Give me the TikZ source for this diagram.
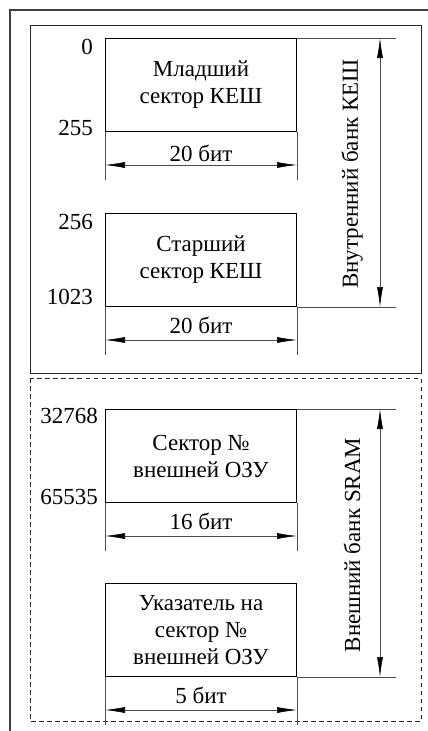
\documentclass[tikz,border=0pt]{standalone}
\usepackage{fontspec}
\setmainfont{Liberation Serif}
\usetikzlibrary{arrows.meta,calc}
\tikzset{
  frame/.style={draw=black!75, line width=1.4pt},
  bank/.style={draw=black!85, line width=1pt},
  sector/.style={draw=black, line width=1pt, minimum width=191pt, minimum height=93pt,
    anchor=north west, inner sep=0pt, align=center, font=\fontsize{23}{27}\selectfont},
  addr/.style={anchor=east, inner sep=0pt, font=\fontsize{23}{25}\selectfont},
  dimtext/.style={inner sep=0pt, font=\fontsize{23}{25}\selectfont},
  extline/.style={draw=black!70, line width=0.5pt},
  dimline/.style={draw=black!70, line width=0.6pt, {Latex[length=20pt,width=6pt,color=black]}-{Latex[length=20pt,width=6pt,color=black]}},
}
\begin{document}
\begin{tikzpicture}[x=1pt,y=-1pt]
\useasboundingbox (0,0) rectangle (428,731);
% outer frame, running off the page on the right and at the bottom
\begin{scope}
\clip (0,0) rectangle (428,731);
\draw[frame] (10,740) -- (10,10) -- (440,10);
\end{scope}
% bank outlines
\draw[bank] (30,25) rectangle (421,373);
\draw[bank, dash pattern=on 4.5pt off 3.5pt] (30,378) rectangle (421,721);

% sectors
\node[sector] (s1) at (105,38) {Младший\\сектор КЕШ};
\node[sector] (s2) at (105,213) {Старший\\сектор КЕШ};
\node[sector] (s3) at (105,409) {Сектор №\\внешней ОЗУ};
\node[sector] (s4) at (105,583) {Указатель на\\сектор №\\внешней ОЗУ};

% address labels
\node[addr] (a0) at (93,47) {0};
\node[addr] (a255) at (93,128) {255};
\node[addr] (a256) at (93,222) {256};
\node[addr] (a1023) at (93,297) {1023};
\node[addr] (a32768) at (98,416) {32768};
\node[addr] (a65535) at (98,497) {65535};

% width dimensions under each sector
\foreach \s/\t/\dy in {s1/20 бит/21, s2/20 бит/18, s3/16 бит/18, s4/5 бит/18}{
  \coordinate (\s dl) at ($(\s.south west)+(0,33)$);
  \coordinate (\s dr) at ($(\s.south east)+(0,33)$);
  \draw[extline] (\s.south west) -- ++(0,48);
  \draw[extline] (\s.south east) -- ++(0,48);
  \draw[dimline] (\s dl) -- (\s dr);
  \node[dimtext] at ($(\s.south)+(0,\dy)$) {\t};
}

% bank height dimensions
\coordinate (k1) at ($(s1.north east)+(99,0)$);
\coordinate (k2) at ($(s2.south east)+(99,0)$);
\coordinate (k3) at ($(s3.north east)+(99,0)$);
\coordinate (k4) at ($(s4.south east)+(99,0)$);
\draw[extline] (s1.north east) -- (k1);
\draw[extline] (s2.south east) -- (k2);
\draw[extline] (s3.north east) -- (k3);
\draw[extline] (s4.south east) -- (k4);
\coordinate (v1) at ($(k1)+(-16,0)$);
\coordinate (v2) at ($(k2)+(-16,0)$);
\coordinate (v3) at ($(k3)+(-16,0)$);
\coordinate (v4) at ($(k4)+(-16,0)$);
\draw[dimline] (v1) -- (v2);
\draw[dimline] (v3) -- (v4);
\node[dimtext, rotate=90] (b1) at (352,174) {Внутренний банк КЕШ};
\node[dimtext, rotate=90] (b2) at (352,545) {Внешний банк SRAM};
\end{tikzpicture}
\end{document}
